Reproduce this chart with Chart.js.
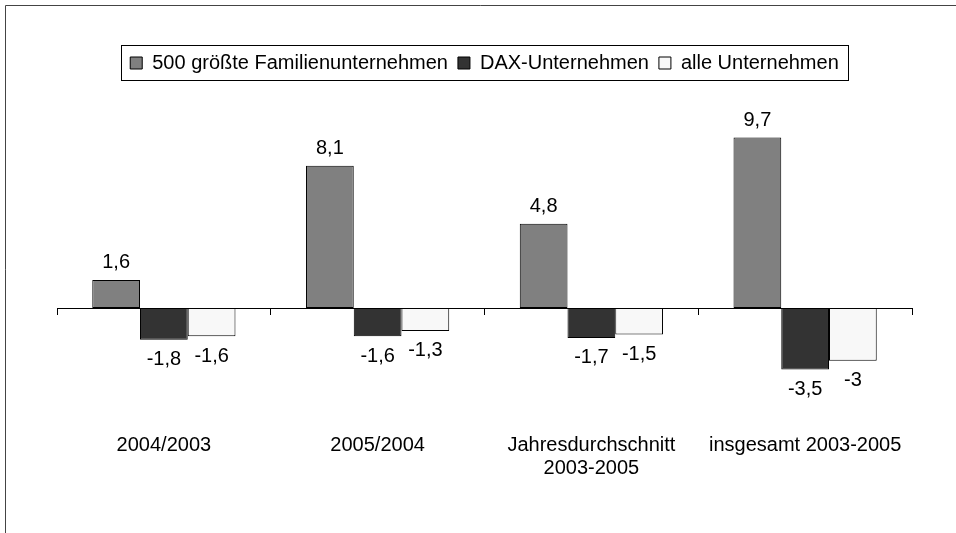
<!DOCTYPE html>
<html>
<head>
<meta charset="utf-8">
<script src="https://cdn.jsdelivr.net/npm/chart.js@4/dist/chart.umd.min.js"></script>
<style>
  html, body { margin: 0; padding: 0; background: #fff; }
  #wrap { width: 956px; height: 533px; position: relative; }
</style>
</head>
<body>
<div id="wrap"><canvas id="chart"></canvas></div>
<script>
// Kategorien und Werte (Veränderung in %)
var categories = ["2004/2003", "2005/2004", ["Jahresdurchschnitt", "2003-2005"], "insgesamt 2003-2005"];
var familienWerte = [1.6, 8.1, 4.8, 9.7];
var daxWerte = [-1.8, -1.6, -1.7, -3.5];
var alleWerte = [-1.6, -1.3, -1.5, -3];
var seriesNames = ["500 größte Familienunternehmen", "DAX-Unternehmen", "alle Unternehmen"];

var FONT = "'Liberation Sans', Arial, sans-serif";

// Rahmen um das Diagramm und um die Legende
var framePlugin = {
    id: 'frame',
    afterDraw: function (chart) {
        var ctx = chart.ctx;
        ctx.save();
        ctx.strokeStyle = '#444';
        ctx.lineWidth = 1;
        ctx.beginPath();
        ctx.moveTo(5.5, chart.height);
        ctx.lineTo(5.5, 5.5);
        ctx.lineTo(chart.width, 5.5);
        ctx.stroke();

        var hb = chart.legend.legendHitBoxes;
        if (hb && hb.length) {
            var l = hb[0].left, r = hb[hb.length - 1].left + hb[hb.length - 1].width;
            var t = hb[0].top, h = hb[0].height;
            ctx.strokeStyle = '#000';
            ctx.strokeRect(Math.round(l - 9) + 0.5, Math.round(t - 8) + 0.5, Math.round(r - l + 18), Math.round(h + 15));
        }
        ctx.restore();
    }
};

// Werte an den Balken (mit Komma)
var valueLabels = {
    id: 'valueLabels',
    afterDatasetsDraw: function (chart) {
        var ctx = chart.ctx;
        ctx.save();
        ctx.font = '20px ' + FONT;
        ctx.fillStyle = '#000';
        ctx.textAlign = 'center';
        ctx.textBaseline = 'middle';
        chart.data.datasets.forEach(function (ds, i) {
            chart.getDatasetMeta(i).data.forEach(function (bar, j) {
                var v = ds.data[j];
                var txt = String(v).replace('.', ',');
                var y = v >= 0 ? bar.y - 17 : bar.y + 20;
                ctx.fillText(txt, bar.x, y);
            });
        });
        ctx.restore();
    }
};

new Chart(document.getElementById('chart'), {
    type: 'bar',
    data: {
        labels: categories,
        datasets: [
            { label: seriesNames[0], data: familienWerte, backgroundColor: '#808080' },
            { label: seriesNames[1], data: daxWerte, backgroundColor: '#333333' },
            { label: seriesNames[2], data: alleWerte, backgroundColor: '#f8f8f8' }
        ]
    },
    options: {
        responsive: true,
        maintainAspectRatio: false,
        animation: false,
        datasets: {
            bar: {
                borderColor: '#000',
                borderWidth: 1,
                borderSkipped: false,
                categoryPercentage: 0.67,
                barPercentage: 1
            }
        },
        layout: {
            padding: { top: 43, left: 57, right: 44, bottom: 137 }
        },
        scales: {
            x: {
                position: { y: 0 },
                offset: true,
                grid: { offset: true, drawOnChartArea: false, drawTicks: true, tickLength: 6, color: '#000' },
                border: { display: true, color: '#000', width: 1 },
                ticks: {
                    color: '#000',
                    padding: 120,
                    maxRotation: 0,
                    autoSkip: false,
                    font: { family: FONT, size: 20, lineHeight: 1.15 }
                },
                afterFit: function (scale) {
                    scale.paddingLeft = 0;
                    scale.paddingRight = 0;
                }
            },
            y: {
                display: false,
                min: -5,
                max: 12.8
            }
        },
        plugins: {
            legend: {
                position: 'top',
                labels: {
                    color: '#000',
                    boxWidth: 12,
                    boxHeight: 12,
                    padding: 10,
                    font: { family: FONT, size: 20 }
                }
            },
            tooltip: { enabled: false }
        }
    },
    plugins: [valueLabels, framePlugin]
});
</script>
</body>
</html>
